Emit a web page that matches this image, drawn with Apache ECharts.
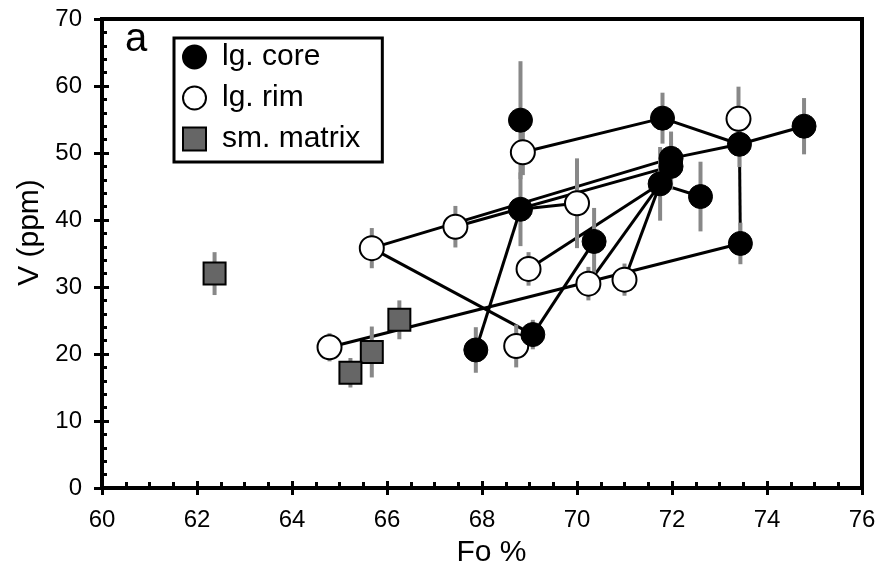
<!DOCTYPE html>
<html>
<head>
<meta charset="utf-8">
<script src="https://cdn.jsdelivr.net/npm/echarts@6/dist/echarts.min.js"></script>
<style>
  html, body { margin: 0; padding: 0; background: #fff; }
  #chart { width: 884px; height: 575px; }
</style>
</head>
<body>
<div id="chart"></div>
<script>
// Olivine forsterite content (Fo %) against vanadium (ppm), with 1-sigma bars.

// Large crystals, core analyses
const coreFo  = [68.81, 71.80, 73.42, 74.78, 71.98, 71.98, 71.75, 72.60, 68.81, 70.36, 73.44, 67.87, 69.07];
const coreV   = [54.9,  55.2,  51.3,  54.0,  49.2,  48.0,  45.4,  43.5,  41.6,  36.8,  36.5,  20.6,  22.9];
const coreErr = [8.8,   3.8,   3.4,   4.2,   4.0,   3.5,   5.5,   5.2,   5.5,   5.0,   3.1,   3.4,   2.2];

// Large crystals, rim analyses
const rimFo  = [68.86, 73.40, 65.68, 67.44, 70.00, 68.98, 70.24, 71.00, 64.79, 68.72];
const rimV   = [50.1,  55.1,  35.8,  39.0,  42.5,  32.7,  30.5,  31.1,  21.0,  21.2];
const rimErr = [3.4,   4.8,   3.0,   3.1,   6.7,   2.5,   2.5,   2.4,   2.1,   3.2];

// Small matrix crystals
const matrixFo  = [62.37, 66.26, 65.68, 65.23];
const matrixV   = [32.0,  25.1,  20.3,  17.2];
const matrixErr = [3.2,   2.9,   3.8,   2.2];

// Tie lines between analyses of the same crystal ('c' = core index, 'r' = rim index)
const ties = [
  ['r2', 'c4'], ['r3', 'c5'], ['c8', 'r4'], ['c8', 'c11'], ['r2', 'c12'], ['c12', 'c9'],
  ['c6', 'r5'], ['c6', 'r6'], ['c6', 'r7'], ['c6', 'c7'], ['r0', 'c1'], ['c1', 'c2'],
  ['c2', 'c3'], ['c2', 'c4'], ['c2', 'c10'], ['c10', 'r8']
];

// Axis extents and steps
const xMin = 60, xMax = 76, xStep = 2;
const yMin = 0,  yMax = 70, yStep = 10;

const seriesNames = ['lg. core', 'lg. rim', 'sm. matrix'];
const FONT = 'Liberation Sans, Arial, sans-serif';

function points(xs, ys, es) {
  return xs.map((x, i) => [x, ys[i], es[i]]);
}
const corePts = points(coreFo, coreV, coreErr);
const rimPts = points(rimFo, rimV, rimErr);
const matrixPts = points(matrixFo, matrixV, matrixErr);

function lookup(ref) {
  const set = ref[0] === 'c' ? corePts : rimPts;
  const p = set[parseInt(ref.slice(1), 10)];
  return [p[0], p[1]];
}
const tieData = ties.map(t => ({ coords: [lookup(t[0]), lookup(t[1])] }));

function errorBars(name, data) {
  return {
    type: 'custom',
    name: name,
    data: data,
    silent: true,
    z: 2,
    encode: { x: 0, y: 1 },
    renderItem: function (params, api) {
      const x = api.value(0), y = api.value(1), e = api.value(2);
      const lo = api.coord([x, y - e]);
      const hi = api.coord([x, y + e]);
      return {
        type: 'line',
        shape: { x1: lo[0], y1: lo[1], x2: hi[0], y2: hi[1] },
        style: { stroke: '#888888', lineWidth: 4 }
      };
    }
  };
}

const chart = echarts.init(document.getElementById('chart'), null, { renderer: 'canvas' });

const axisBase = {
  type: 'value',
  splitLine: { show: false }
};

chart.setOption({
  animation: false,
  backgroundColor: '#ffffff',
  grid: {
    left: 102, right: 22, top: 19, bottom: 87,
    show: true, borderColor: '#000', borderWidth: 4, backgroundColor: 'transparent'
  },
  xAxis: [
    Object.assign({}, axisBase, {
      min: xMin, max: xMax, interval: xStep, position: 'bottom',
      name: 'Fo %', nameLocation: 'middle', nameGap: 50,
      nameTextStyle: { fontFamily: FONT, fontSize: 30, color: '#000', padding: [0, 0, 0, 19] },
      axisLine: { show: true, lineStyle: { color: '#000', width: 4 } },
      axisTick: { show: true, inside: false, length: 7, lineStyle: { color: '#000', width: 3 } },
      axisLabel: { show: true, margin: 20, fontFamily: FONT, fontSize: 24, color: '#000' }
    }),
    Object.assign({}, axisBase, {
      min: xMin, max: xMax, interval: xStep, position: 'bottom',
      axisLine: { show: false },
      axisTick: { show: true, inside: true, length: 7, lineStyle: { color: '#000', width: 3 } },
      minorTick: { show: true, splitNumber: 4, length: 6, lineStyle: { color: '#000', width: 3 } },
      axisLabel: { show: false }
    })
  ],
  yAxis: [
    Object.assign({}, axisBase, {
      min: yMin, max: yMax, interval: yStep, position: 'left',
      name: 'V (ppm)', nameLocation: 'middle', nameGap: 54,
      nameTextStyle: { fontFamily: FONT, fontSize: 30, color: '#000', padding: [0, 0, 0, 42] },
      axisLine: { show: true, lineStyle: { color: '#000', width: 4 } },
      axisTick: { show: true, inside: false, length: 8, lineStyle: { color: '#000', width: 3 } },
      axisLabel: { show: true, margin: 20, fontFamily: FONT, fontSize: 24, color: '#000' }
    }),
    Object.assign({}, axisBase, {
      min: yMin, max: yMax, interval: yStep, position: 'left',
      axisLine: { show: false },
      axisTick: { show: true, inside: true, length: 7, lineStyle: { color: '#000', width: 3 } },
      minorTick: { show: true, splitNumber: 5, length: 5, lineStyle: { color: '#000', width: 3 } },
      axisLabel: { show: false }
    })
  ],
  legend: {
    orient: 'vertical',
    left: 174, top: 38,
    padding: [4, 22, 8, 8],
    itemGap: 11,
    itemWidth: 23, itemHeight: 23,
    selectedMode: false,
    borderColor: '#000', borderWidth: 3, backgroundColor: '#fff',
    textStyle: { fontFamily: FONT, fontSize: 30, color: '#000', padding: [0, 0, 0, 11] },
    data: seriesNames.map(n => ({ name: n }))
  },
  graphic: [{
    type: 'text',
    left: 125, top: 20,
    style: { text: 'a', font: '40px ' + FONT, fill: '#000' }
  }],
  series: [
    {
      type: 'lines',
      coordinateSystem: 'cartesian2d',
      silent: true,
      z: 1,
      lineStyle: { color: '#000', width: 3, opacity: 1 },
      data: tieData
    },
    errorBars('rim bars', rimPts),
    errorBars('core bars', corePts),
    errorBars('matrix bars', matrixPts),
    {
      type: 'scatter', name: seriesNames[1], z: 3,
      symbol: 'circle', symbolSize: 24,
      itemStyle: { color: '#fff', borderColor: '#000', borderWidth: 2, opacity: 1 },
      data: rimPts.map(p => [p[0], p[1]])
    },
    {
      type: 'scatter', name: seriesNames[0], z: 4,
      symbol: 'circle', symbolSize: 24,
      itemStyle: { color: '#000', borderColor: '#000', borderWidth: 1, opacity: 1 },
      data: corePts.map(p => [p[0], p[1]])
    },
    {
      type: 'scatter', name: seriesNames[2], z: 5,
      symbol: 'rect', symbolSize: 22,
      itemStyle: { color: '#666666', borderColor: '#000', borderWidth: 2, opacity: 1 },
      data: matrixPts.map(p => [p[0], p[1]])
    }
  ]
});
</script>
</body>
</html>
